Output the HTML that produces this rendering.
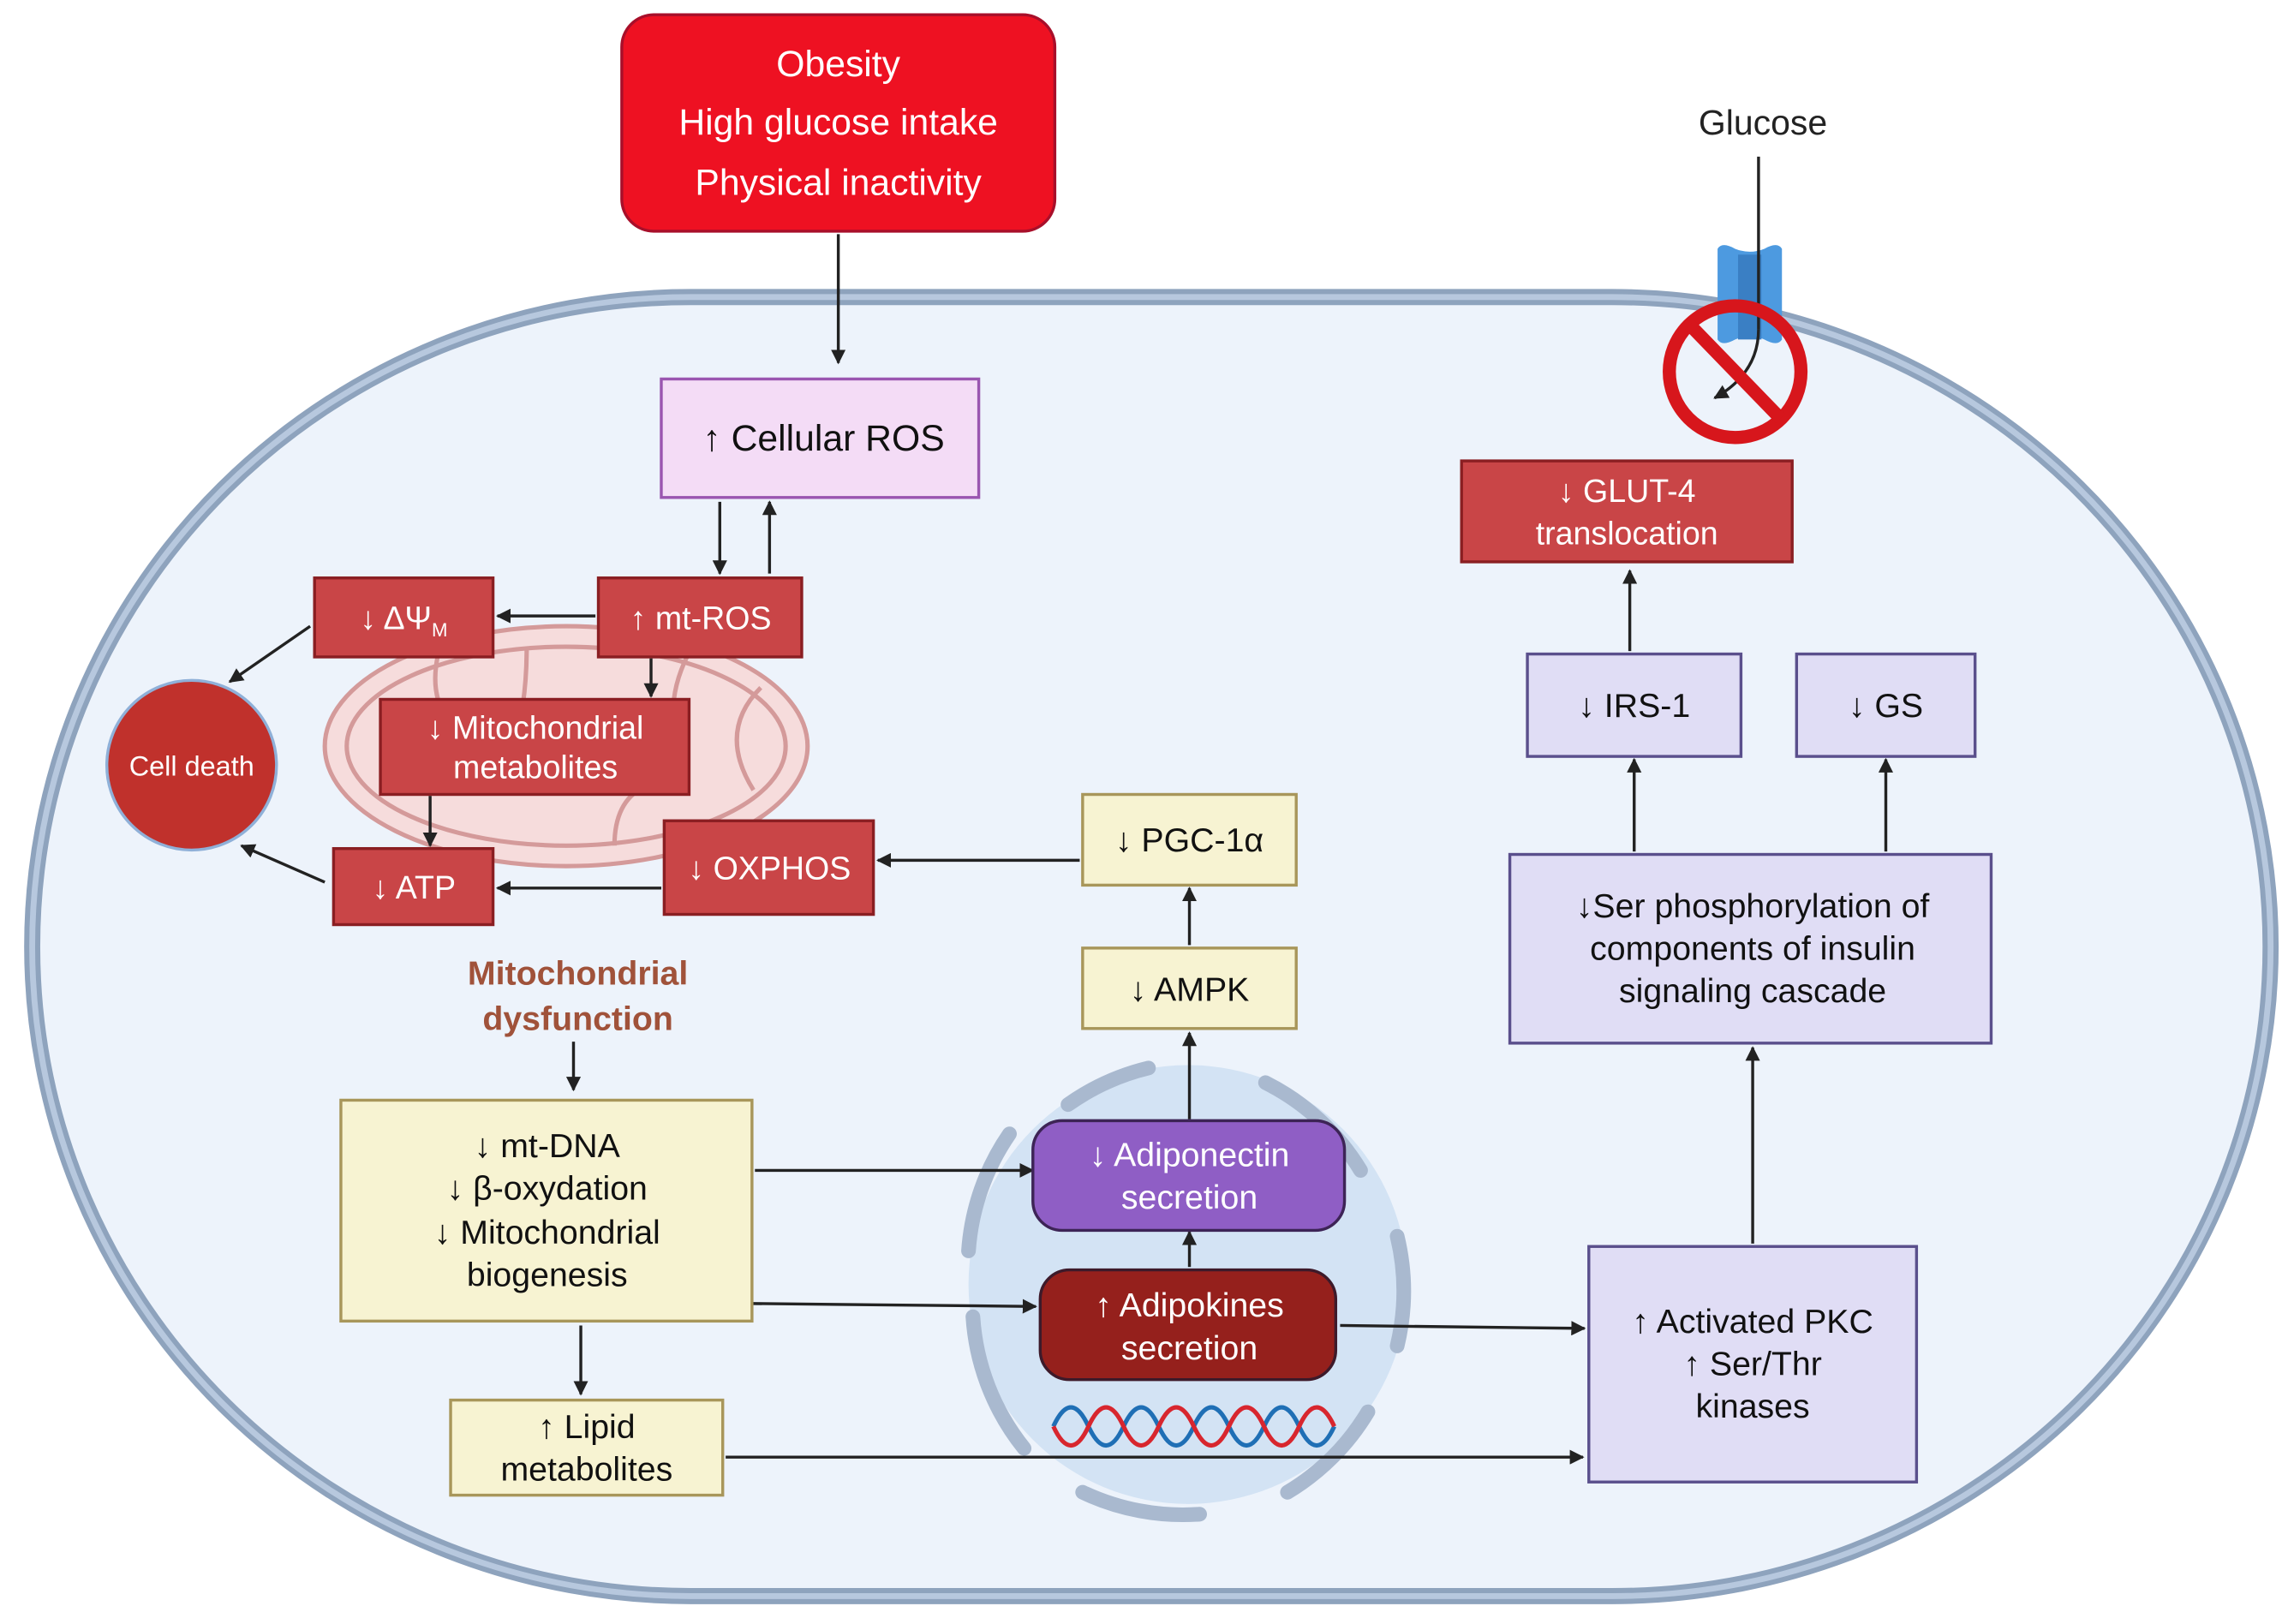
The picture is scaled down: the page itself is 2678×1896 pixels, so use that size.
<!DOCTYPE html>
<html><head><meta charset="utf-8"><style>
html,body{margin:0;padding:0;background:#fff;}
svg{display:block;}
text{font-family:"Liberation Sans",sans-serif;}
</style></head><body>
<svg width="2678" height="1896" viewBox="0 0 1568 1110" xmlns="http://www.w3.org/2000/svg">
<defs>
<marker id="a" viewBox="0 0 10 10" refX="9" refY="5" markerWidth="5" markerHeight="5" orient="auto-start-reverse" markerUnits="strokeWidth"><path d="M0,0 L10,5 L0,10 z" fill="#222"/></marker>
</defs>
<rect width="1568" height="1110" fill="#fff"/>
<!-- cell -->
<rect x="22" y="203" width="1530" height="888" rx="450" ry="445" fill="#edf3fb" stroke="#8ea3bd" stroke-width="11"/>
<rect x="22" y="203" width="1530" height="888" rx="450" ry="445" fill="none" stroke="#b7c8de" stroke-width="4"/>
<!-- nucleus -->
<ellipse cx="812" cy="878" rx="150" ry="150" fill="#d3e3f4"/>
<g fill="none" stroke="#a9b9cf" stroke-width="10" stroke-linecap="round">
<path d="M730 755 A160 160 0 0 1 785 730"/>
<path d="M865 740 A160 160 0 0 1 930 800"/>
<path d="M955 845 A160 160 0 0 1 955 920"/>
<path d="M935 965 A160 160 0 0 1 880 1020"/>
<path d="M820 1035 A160 160 0 0 1 740 1020"/>
<path d="M700 990 A160 160 0 0 1 665 900"/>
<path d="M662 855 A160 160 0 0 1 690 775"/>
</g>
<!-- DNA -->
<g fill="none" stroke-width="3">
<path d="M720 975 q12 -26 24 0 q12 26 24 0 q12 -26 24 0 q12 26 24 0 q12 -26 24 0 q12 26 24 0 q12 -26 24 0 q12 26 24 0" stroke="#1f6fb5"/>
<path d="M720 975 q12 26 24 0 q12 -26 24 0 q12 26 24 0 q12 -26 24 0 q12 26 24 0 q12 -26 24 0 q12 26 24 0 q12 -26 24 0" stroke="#d8262e"/>
</g>
<!-- mitochondrion -->
<ellipse cx="387" cy="510" rx="165" ry="82" fill="#f6dcdc" stroke="#d49a9a" stroke-width="3"/>
<ellipse cx="387" cy="510" rx="150" ry="68" fill="none" stroke="#d49a9a" stroke-width="3"/>
<g fill="none" stroke="#d49a9a" stroke-width="3">
<path d="M300 445 q-10 40 20 60"/>
<path d="M360 443 q0 40 -10 70"/>
<path d="M470 448 q-20 40 0 80"/>
<path d="M520 470 q-30 30 -5 70"/>
<path d="M420 578 q0 -30 20 -40"/>
</g>
<!-- top box -->
<rect x="425" y="10" width="296" height="148" rx="22" fill="#ee1122" stroke="#a80f2a" stroke-width="2"/>
<g fill="#fff" font-size="25" text-anchor="middle">
<text x="573" y="52">Obesity</text>
<text x="573" y="92">High glucose intake</text>
<text x="573" y="133">Physical inactivity</text>
</g>
<line x1="573" y1="160" x2="573" y2="248" stroke="#222" stroke-width="2" marker-end="url(#a)"/>
<!-- Cellular ROS -->
<rect x="452" y="259" width="217" height="81" fill="#f4dcf6" stroke="#9a55b0" stroke-width="2"/>
<text x="563" y="308" font-size="25" text-anchor="middle" fill="#111">↑ Cellular ROS</text>
<line x1="492" y1="343" x2="492" y2="392" stroke="#222" stroke-width="2" marker-end="url(#a)"/>
<line x1="526" y1="392" x2="526" y2="343" stroke="#222" stroke-width="2" marker-end="url(#a)"/>
<!-- red boxes -->
<g fill="#c94547" stroke="#8a1e22" stroke-width="2">
<rect x="215" y="395" width="122" height="54"/>
<rect x="409" y="395" width="139" height="54"/>
<rect x="260" y="478" width="211" height="65"/>
<rect x="228" y="580" width="109" height="52"/>
<rect x="454" y="561" width="143" height="64"/>
<rect x="999" y="315" width="226" height="69"/>
</g>
<g fill="#fff" font-size="22" text-anchor="middle">
<text x="276" y="430">↓ ΔΨ<tspan font-size="13" dy="5">M</tspan></text>
<text x="479" y="430">↑ mt-ROS</text>
<text x="366" y="505">↓ Mitochondrial</text>
<text x="366" y="532">metabolites</text>
<text x="283" y="614">↓ ATP</text>
<text x="526" y="601">↓ OXPHOS</text>
<text x="1112" y="343">↓ GLUT-4</text>
<text x="1112" y="372">translocation</text>
</g>
<circle cx="131" cy="523" r="58" fill="#c0312c" stroke="#8fb0d8" stroke-width="2"/>
<text x="131" y="530" font-size="19" fill="#fff" text-anchor="middle">Cell death</text>
<g stroke="#222" stroke-width="2" fill="none" marker-end="url(#a)">
<line x1="407" y1="421" x2="340" y2="421"/>
<line x1="445" y1="450" x2="445" y2="476"/>
<line x1="294" y1="544" x2="294" y2="578"/>
<line x1="452" y1="607" x2="340" y2="607"/>
<line x1="212" y1="428" x2="157" y2="466"/>
<line x1="222" y1="603" x2="165" y2="578"/>
<line x1="738" y1="588" x2="600" y2="588"/>
<line x1="813" y1="646" x2="813" y2="607"/>
<line x1="813" y1="765" x2="813" y2="706"/>
<line x1="813" y1="866" x2="813" y2="842"/>
<line x1="392" y1="712" x2="392" y2="745"/>
<line x1="516" y1="800" x2="706" y2="800"/>
<line x1="514" y1="891" x2="708" y2="893"/>
<line x1="397" y1="906" x2="397" y2="953"/>
<line x1="496" y1="996" x2="1082" y2="996"/>
<line x1="916" y1="906" x2="1083" y2="908"/>
<line x1="1198" y1="850" x2="1198" y2="716"/>
<line x1="1117" y1="582" x2="1117" y2="519"/>
<line x1="1289" y1="582" x2="1289" y2="519"/>
<line x1="1114" y1="445" x2="1114" y2="390"/>
</g>
<text x="395" y="673" font-size="23" font-weight="bold" fill="#a0523a" text-anchor="middle">Mitochondrial</text>
<text x="395" y="704" font-size="23" font-weight="bold" fill="#a0523a" text-anchor="middle">dysfunction</text>
<!-- yellow boxes -->
<g fill="#f7f3d2" stroke="#a8965a" stroke-width="2">
<rect x="740" y="543" width="146" height="62"/>
<rect x="740" y="648" width="146" height="55"/>
<rect x="233" y="752" width="281" height="151"/>
<rect x="308" y="957" width="186" height="65"/>
</g>
<g fill="#111" font-size="23" text-anchor="middle">
<text x="813" y="582">↓ PGC-1α</text>
<text x="813" y="684">↓ AMPK</text>
<text x="374" y="791">↓ mt-DNA</text>
<text x="374" y="820">↓ β-oxydation</text>
<text x="374" y="850">↓ Mitochondrial</text>
<text x="374" y="879">biogenesis</text>
<text x="401" y="983">↑ Lipid</text>
<text x="401" y="1012">metabolites</text>
</g>
<!-- nucleus boxes -->
<rect x="706" y="766" width="213" height="75" rx="20" fill="#8f5ec5" stroke="#3d2456" stroke-width="2"/>
<rect x="711" y="868" width="202" height="75" rx="20" fill="#95201c" stroke="#3d1a2a" stroke-width="2"/>
<g fill="#fff" font-size="23" text-anchor="middle">
<text x="813" y="797">↓ Adiponectin</text>
<text x="813" y="826">secretion</text>
<text x="813" y="900">↑ Adipokines</text>
<text x="813" y="929">secretion</text>
</g>
<!-- lavender boxes -->
<g fill="#e0ddf5" stroke="#5a4f8c" stroke-width="2">
<rect x="1044" y="447" width="146" height="70"/>
<rect x="1228" y="447" width="122" height="70"/>
<rect x="1032" y="584" width="329" height="129"/>
<rect x="1086" y="852" width="224" height="161"/>
</g>
<g fill="#111" font-size="23" text-anchor="middle">
<text x="1117" y="490">↓ IRS-1</text>
<text x="1289" y="490">↓ GS</text>
<text x="1198" y="627">↓Ser phosphorylation of</text>
<text x="1198" y="656">components of insulin</text>
<text x="1198" y="685">signaling cascade</text>
<text x="1198" y="911">↑ Activated PKC</text>
<text x="1198" y="940">↑ Ser/Thr</text>
<text x="1198" y="969">kinases</text>
</g>
<!-- glucose transporter -->
<text x="1205" y="92" font-size="24" fill="#222" text-anchor="middle">Glucose</text>
<path d="M1174 170 q3 -5 12 0 q10 4 20 0 q9 -5 12 0 v62 q-3 5 -12 0 q-10 -4 -20 0 q-9 5 -12 0z" fill="#4d9ae0"/>
<rect x="1188" y="174" width="16" height="58" fill="#3a7fc4"/>
<line x1="1202" y1="107" x2="1202" y2="225" stroke="#222" stroke-width="2"/>
<path d="M1202 225 Q1202 255 1172 272" fill="none" stroke="#222" stroke-width="2" marker-end="url(#a)"/>
<circle cx="1186" cy="254" r="45" fill="none" stroke="#d7161c" stroke-width="9"/>
<line x1="1155" y1="222" x2="1217" y2="286" stroke="#d7161c" stroke-width="9"/>
</svg>
</body></html>
